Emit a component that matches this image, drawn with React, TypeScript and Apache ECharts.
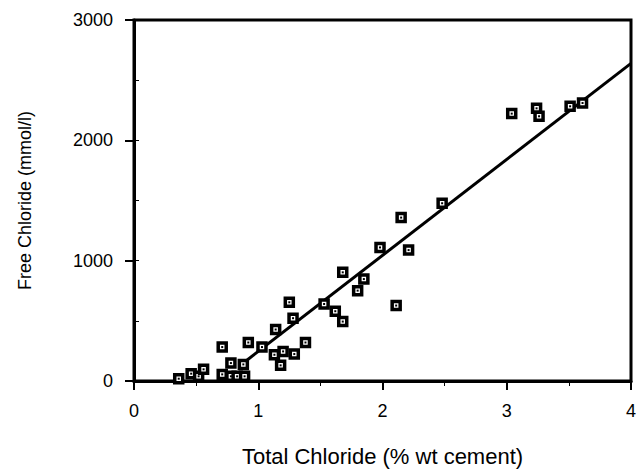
import React, { useEffect, useRef } from "react";
import * as echarts from "echarts";

const totalChloride = [0.36, 0.46, 0.52, 0.56, 0.71, 0.71, 0.78, 0.78, 0.83, 0.88, 0.89, 0.92, 1.03, 1.13, 1.14, 1.18, 1.2, 1.25, 1.28, 1.29, 1.38, 1.53, 1.62, 1.68, 1.68, 1.8, 1.85, 1.98, 2.11, 2.15, 2.21, 2.48, 3.04, 3.24, 3.26, 3.51, 3.61];
const freeChloride = [19, 61, 39, 97, 282, 55, 149, 39, 39, 138, 39, 320, 282, 218, 428, 130, 246, 654, 522, 224, 320, 640, 580, 903, 494, 751, 847, 1110, 627, 1358, 1088, 1477, 2222, 2266, 2200, 2283, 2310];
const fitX = [0.88, 4];
const fitY = [150, 2640];
const xTicks = [0, 1, 2, 3, 4];
const yTicks = [0, 1000, 2000, 3000];

export default function App() {
  const ref = useRef<HTMLDivElement>(null);
  useEffect(() => {
    if (!ref.current) return;
    const chart = echarts.init(ref.current, undefined, { renderer: "svg" });
    const pts = totalChloride.map((x, i) => [x, freeChloride[i]]);
    const fit = fitX.map((x, i) => [x, fitY[i]]);
    const font = "'Liberation Sans', Arial, Helvetica, sans-serif";
    chart.setOption({
      animation: false,
      backgroundColor: "#ffffff",
      grid: {
        left: 134,
        right: 13,
        top: 20,
        bottom: 90,
        show: true,
        borderColor: "#000",
        borderWidth: 3,
        backgroundColor: "transparent",
      },
      xAxis: {
        type: "value",
        min: xTicks[0],
        max: xTicks[xTicks.length - 1],
        interval: 1,
        name: "Total Chloride (% wt cement)",
        nameLocation: "middle",
        nameGap: 64,
        nameTextStyle: { color: "#000", fontSize: 22, fontFamily: font },
        axisLine: { show: true, onZero: false, lineStyle: { color: "#000", width: 3 } },
        axisTick: { show: true, inside: false, length: 9, lineStyle: { color: "#000", width: 2 } },
        minorTick: { show: true, splitNumber: 2, length: 5, lineStyle: { color: "#000", width: 1 } },
        axisLabel: { color: "#000", fontSize: 18, margin: 21, fontFamily: font, formatter: (v: number) => String(v) },
        splitLine: { show: false },
      },
      yAxis: [
        {
          type: "value",
          min: yTicks[0],
          max: yTicks[yTicks.length - 1],
          interval: 1000,
          name: "Free Chloride (mmol/l)",
          nameLocation: "middle",
          nameGap: 100,
          nameTextStyle: { color: "#000", fontSize: 18, fontFamily: font },
          axisLine: { show: true, onZero: false, lineStyle: { color: "#000", width: 3 } },
          axisTick: { show: true, inside: false, length: 9, lineStyle: { color: "#000", width: 2 } },
          axisLabel: { color: "#000", fontSize: 18, margin: 21, fontFamily: font, formatter: (v: number) => String(v) },
          splitLine: { show: false },
        },
        {
          type: "value",
          position: "left",
          offset: 0,
          min: 0,
          max: 3000,
          interval: 500,
          axisLine: { show: false },
          axisTick: { show: true, inside: true, length: 5, lineStyle: { color: "#000", width: 1 } },
          axisLabel: { show: false },
          splitLine: { show: false },
        },
      ],
      series: [
        {
          type: "line",
          data: fit,
          showSymbol: false,
          symbol: "none",
          lineStyle: { color: "#000", width: 3 },
          z: 2,
        },
        {
          type: "scatter",
          data: pts,
          symbol: "rect",
          symbolSize: 8,
          itemStyle: { color: "#fff", borderColor: "#000", borderWidth: 3.5, opacity: 1 },
          z: 3,
        },
        {
          type: "scatter",
          data: pts,
          symbol: "rect",
          symbolSize: 2,
          itemStyle: { color: "#000", opacity: 1 },
          z: 4,
        },
      ],
    });
    return () => chart.dispose();
  }, []);
  return <div ref={ref} style={{ width: 644, height: 472, position: "absolute", left: 0, top: 0 }} />;
}
